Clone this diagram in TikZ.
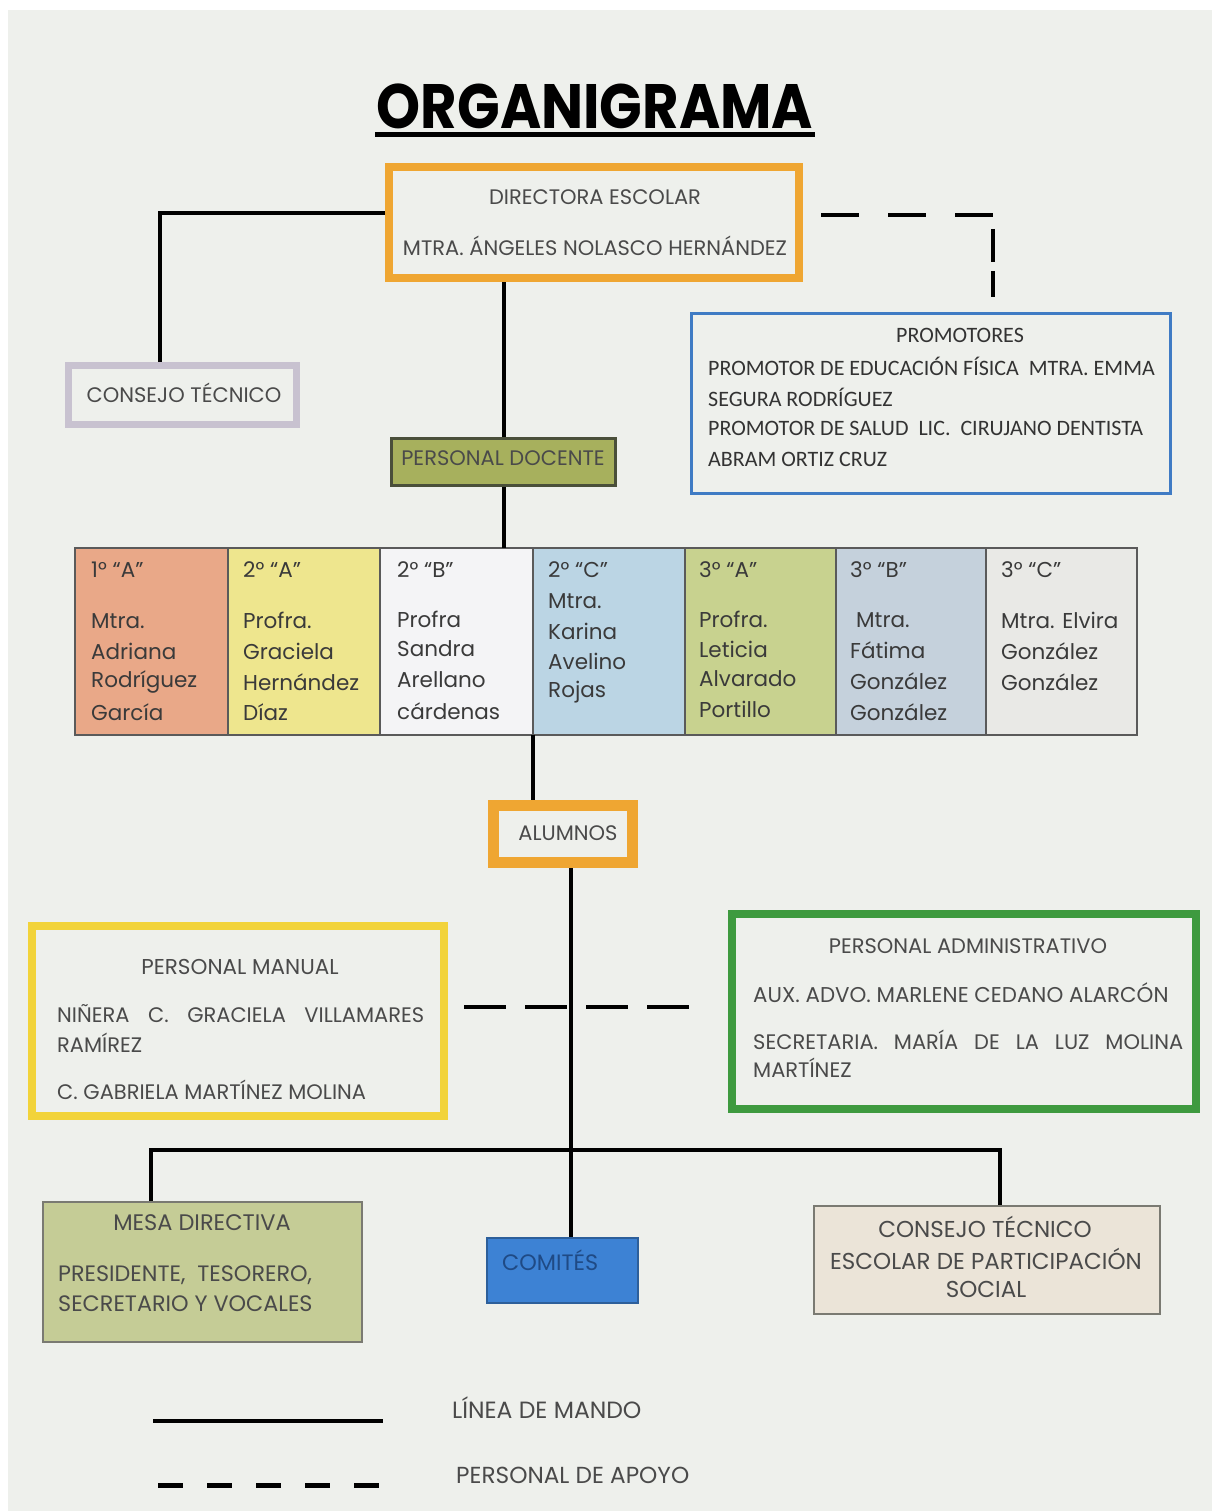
\documentclass[tikz,border=0pt]{standalone}
\usepackage{fontspec}
\setmainfont{Poppins}
\newfontfamily\calib{Carlito}
\definecolor{paper}{HTML}{EEF0EC}
\definecolor{tgrey}{HTML}{4A4A4A}
\definecolor{tdark}{HTML}{3A3A3A}
\definecolor{orangeb}{HTML}{EFA632}
\definecolor{lilac}{HTML}{C8C2D0}
\definecolor{pblue}{HTML}{3F7BC4}
\definecolor{docgreen}{HTML}{A7B05D}
\definecolor{docborder}{HTML}{4A4F3A}
\definecolor{cellborder}{HTML}{5A5A5A}
\definecolor{csalmon}{HTML}{E9A888}
\definecolor{cyellow}{HTML}{EEE68E}
\definecolor{cwhite}{HTML}{F4F4F6}
\definecolor{cblue}{HTML}{BBD5E4}
\definecolor{colive}{HTML}{C8D28F}
\definecolor{cgblue}{HTML}{C5D1DC}
\definecolor{cgrey}{HTML}{E9E9E6}
\definecolor{yborder}{HTML}{F2D33A}
\definecolor{gborder}{HTML}{3E9A3F}
\definecolor{mesafill}{HTML}{C5CC96}
\definecolor{comfill}{HTML}{3D82D4}
\definecolor{comborder}{HTML}{2D5F9A}
\definecolor{comtext}{HTML}{1F4A85}
\definecolor{cetfill}{HTML}{EBE4D8}
\definecolor{boxgrey}{HTML}{7A7A72}
\tikzset{
  conn/.style={line width=4pt, black},
  box/.style={draw, rectangle, inner sep=0pt},
  txt/.style={text=tgrey, inner sep=0pt, font=\fontsize{21}{24}\selectfont},
  ltxt/.style={txt, anchor=west},
  ctxt/.style={text=tdark, inner sep=0pt, anchor=west, font=\fontsize{21.5}{24}\selectfont},
  ptxt/.style={text=black!80, inner sep=0pt, anchor=west, font=\calib\fontsize{22}{24}\selectfont},
  cell/.style={draw=cellborder, line width=2pt, anchor=north west, outer sep=0pt, minimum height=187pt, inner sep=0pt}
}
\begin{document}
\begin{tikzpicture}[x=1pt,y=-1pt]
\useasboundingbox (0,0) rectangle (1212,1511);
\fill[white] (0,0) rectangle (1212,1511);
\fill[paper] (8,10) rectangle (1212,1511);

% title
\node[inner sep=0pt, font=\bfseries\fontsize{56}{56}\selectfont] (title) at (595,106) {\scalebox{1}[1.12]{ORGANIGRAMA}};
\coordinate (ulA) at (375,135);
\coordinate (ulB) at (815,135);
\draw[line width=5pt] (ulA) -- (ulB);

% directora
\node[box, draw=orangeb, line width=8pt, minimum width=410pt, minimum height=111pt] (dir) at (594,222.5) {};
\node[txt] (dirA) at (595,197) {DIRECTORA ESCOLAR};
\node[txt] (dirB) at (595,246) {MTRA. ÁNGELES NOLASCO HERNÁNDEZ};

% consejo tecnico
\node[box, draw=lilac, line width=7pt, minimum width=228pt, minimum height=59pt] (cons) at (182.5,395) {};
\node[txt] (consT) at (184,393) {CONSEJO TÉCNICO};
\draw[conn] ([yshift=9.5pt]dir.west) -| ([xshift=-22.5pt]cons.north);

% promotores
\node[box, draw=pblue, line width=3pt, minimum width=479pt, minimum height=180pt] (prom) at (931,403.5) {};
\node[ptxt, anchor=center] (promT) at (960,335) {PROMOTORES};
\node[ptxt] (promA) at (708,366) {PROMOTOR DE EDUCACIÓN FÍSICA\ \ MTRA. EMMA};
\node[ptxt] (promB) at (708,397) {SEGURA RODRÍGUEZ};
\node[ptxt] (promC) at (708,428) {PROMOTOR DE SALUD\ \ LIC.\ \ CIRUJANO DENTISTA};
\node[ptxt] (promD) at (708,459) {ABRAM ORTIZ CRUZ};
\coordinate (dA) at (995,215);
\coordinate (dB) at (993,229);
\draw[conn, dash pattern=on 38pt off 29pt] ([xshift=18pt,yshift=7.5pt]dir.east) -- (dA);
\draw[conn, dash pattern=on 33pt off 9pt] (dB) -- ([xshift=62pt,yshift=15pt]prom.north);

% personal docente
\node[box, fill=docgreen, draw=docborder, line width=3pt, minimum width=224pt, minimum height=47pt] (doc) at (503.5,462) {};
\node[txt] (docT) at (503,458) {PERSONAL DOCENTE};
\draw[conn] (doc.north) -- (doc.north |- dir.south);

% table
\node[cell, fill=csalmon, minimum width=153pt] (c1) at (75,548) {};
\node[cell, fill=cyellow, minimum width=152pt] (c2) at (228,548) {};
\node[cell, fill=cwhite, minimum width=153pt] (c3) at (380,548) {};
\node[cell, fill=cblue, minimum width=152pt] (c4) at (533,548) {};
\node[cell, fill=colive, minimum width=151pt] (c5) at (685,548) {};
\node[cell, fill=cgblue, minimum width=150pt] (c6) at (836,548) {};
\node[cell, fill=cgrey, minimum width=151pt] (c7) at (986,548) {};
\draw[conn] (doc.south) -- (doc.south |- c3.north);

\node[ctxt] (a1) at (91,570) {1° “A”};
\node[ctxt] (a2) at (91,621) {Mtra.};
\node[ctxt] (a3) at (91,651) {Adriana};
\node[ctxt] (a4) at (91,682) {Rodríguez};
\node[ctxt] (a5) at (91,712) {García};

\node[ctxt] (b1) at (243,570) {2° “A”};
\node[ctxt] (b2) at (243,620) {Profra.};
\node[ctxt] (b3) at (243,651) {Graciela};
\node[ctxt] (b4) at (243,682) {Hernández};
\node[ctxt] (b5) at (243,712) {Díaz};

\node[ctxt] (d1) at (397,570) {2° “B”};
\node[ctxt] (d2) at (397,619) {Profra};
\node[ctxt] (d3) at (397,649) {Sandra};
\node[ctxt] (d4) at (397,680) {Arellano};
\node[ctxt] (d5) at (397,711) {cárdenas};

\node[ctxt] (e1) at (548,570) {2° “C”};
\node[ctxt] (e2) at (548,601) {Mtra.};
\node[ctxt] (e3) at (548,631) {Karina};
\node[ctxt] (e4) at (548,661) {Avelino};
\node[ctxt] (e5) at (548,692) {Rojas};

\node[ctxt] (f1) at (699,570) {3° “A”};
\node[ctxt] (f2) at (699,619) {Profra.};
\node[ctxt] (f3) at (699,649) {Leticia};
\node[ctxt] (f4) at (699,679) {Alvarado};
\node[ctxt] (f5) at (699,709) {Portillo};

\node[ctxt] (g1) at (850,570) {3° “B”};
\node[ctxt] (g2) at (856,620) {Mtra.};
\node[ctxt] (g3) at (850,650) {Fátima};
\node[ctxt] (g4) at (850,681) {González};
\node[ctxt] (g5) at (850,712) {González};

\node[ctxt] (h1) at (1001,570) {3° “C”};
\node[ctxt] (h2) at (1001,620) {Mtra. Elvira};
\node[ctxt] (h3) at (1001,651) {González};
\node[ctxt] (h4) at (1001,682) {González};

% alumnos
\node[box, draw=orangeb, line width=11pt, minimum width=139pt, minimum height=57pt] (alu) at (563,834) {};
\node[txt] (aluT) at (568,833) {ALUMNOS};
\draw[conn] (c4.south west) -- (c4.south west |- alu.north);

% personal manual / administrativo
\node[box, draw=yborder, line width=8pt, minimum width=412pt, minimum height=190pt] (man) at (238,1021) {};
\node[txt, font=\fontsize{21.5}{24}\selectfont] (manT) at (240,967) {PERSONAL MANUAL};
\node[ltxt] (manA) at (57,1014) {\makebox[367pt][s]{NIÑERA C. GRACIELA VILLAMARES}};
\node[ltxt] (manB) at (57,1043) {RAMÍREZ};
\node[ltxt] (manC) at (57,1090) {C. GABRIELA MARTÍNEZ MOLINA};

\node[box, draw=gborder, line width=8pt, minimum width=464pt, minimum height=195pt] (adm) at (964,1011.5) {};
\node[txt] (admT) at (968,946) {PERSONAL ADMINISTRATIVO};
\node[ltxt, font=\fontsize{21.4}{24}\selectfont] (admA) at (753,993) {AUX. ADVO. MARLENE CEDANO ALARCÓN};
\node[ltxt] (admB) at (753,1040) {\makebox[430pt][s]{SECRETARIA. MARÍA DE LA LUZ MOLINA}};
\node[ltxt] (admC) at (753,1068) {MARTÍNEZ};

\path ([yshift=14pt]man.east) coordinate (mA);
\draw[conn, dash pattern=on 42pt off 19pt] ([xshift=16pt]mA) -- ([xshift=-33pt]mA -| adm.west);

% bottom level
\node[box, fill=mesafill, draw=boxgrey, line width=2pt, minimum width=319pt, minimum height=140pt] (mesa) at (202.5,1272) {};
\node[txt, font=\fontsize{22.5}{24}\selectfont] (mesaT) at (202,1223) {MESA DIRECTIVA};
\node[ltxt, font=\fontsize{22.3}{24}\selectfont] (mesaA) at (58,1275) {PRESIDENTE,\ \ TESORERO,};
\node[ltxt, font=\fontsize{22.3}{24}\selectfont] (mesaB) at (58,1304) {SECRETARIO Y VOCALES};

\node[box, fill=comfill, draw=comborder, line width=2pt, minimum width=151pt, minimum height=65pt] (com) at (562.5,1270) {};
\node[txt, text=comtext, anchor=west, font=\fontsize{22.3}{24}\selectfont] (comT) at (502,1260) {COMITÉS};

\node[box, fill=cetfill, draw=boxgrey, line width=2pt, minimum width=346pt, minimum height=108pt] (cet) at (987,1260) {};
\node[txt, font=\fontsize{23}{24}\selectfont] (cetA) at (985,1227) {CONSEJO TÉCNICO};
\node[txt, font=\fontsize{23}{24}\selectfont] (cetB) at (986,1259) {ESCOLAR DE PARTICIPACIÓN};
\node[txt, font=\fontsize{23}{24}\selectfont] (cetC) at (986,1289) {SOCIAL};

\coordinate (bus) at (571,1150);
\coordinate (busL) at (151,1150);
\coordinate (busR) at (1000,1150);
\draw[conn] (alu.south -| bus) -- (com.north -| bus);
\draw[conn] (mesa.north -| busL) |- (busR) -- (cet.north -| busR);

% legend
\coordinate (lgA) at (153,1421);
\coordinate (lgB) at (383,1421);
\coordinate (lgC) at (158,1485);
\coordinate (lgD) at (383,1485);
\draw[conn] (lgA) -- (lgB);
\draw[conn, line width=5pt, dash pattern=on 25pt off 24pt] (lgC) -- (lgD);
\node[ltxt, font=\fontsize{23.5}{24}\selectfont] (lgT1) at (452,1408) {LÍNEA DE MANDO};
\node[ltxt, font=\fontsize{23.2}{24}\selectfont] (lgT2) at (456,1475) {PERSONAL DE APOYO};
\end{tikzpicture}
\end{document}
